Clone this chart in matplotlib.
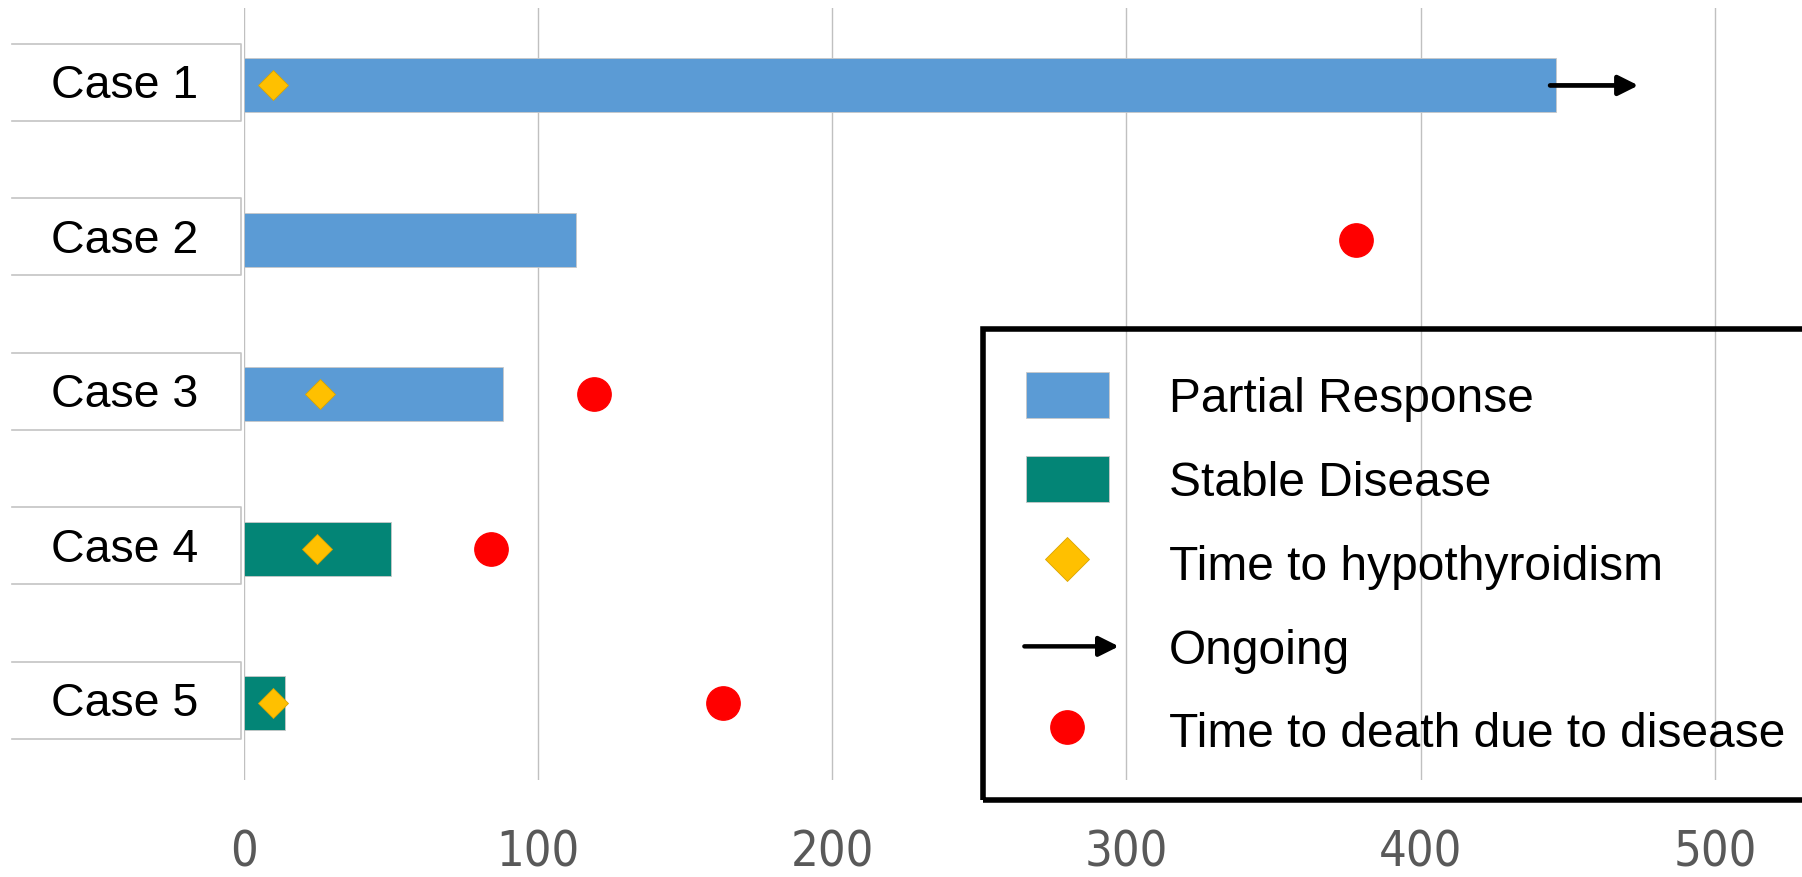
import numpy as np
import matplotlib
matplotlib.use("Agg")
import matplotlib.pyplot as plt
from matplotlib.patches import Patch, FancyArrowPatch
from matplotlib.lines import Line2D
from matplotlib.legend_handler import HandlerBase
from matplotlib.transforms import blended_transform_factory

plt.rcParams['font.family'] = ['Liberation Sans', 'DejaVu Sans']

cases = ['Case 1', 'Case 2', 'Case 3', 'Case 4', 'Case 5']
response = ['Partial Response', 'Partial Response', 'Partial Response',
            'Stable Disease', 'Stable Disease']
response_days = [446, 113, 88, 50, 14]
hypothyroid_days = [10, np.nan, 26, 25, 10]
death_days = [np.nan, 378, 119, 84, 163]
ongoing_until = [474, np.nan, np.nan, np.nan, np.nan]
xticks = [0, 100, 200, 300, 400, 500]

colors = {'Partial Response': '#5B9BD5', 'Stable Disease': '#038576'}
diamond_color = '#FFC000'
death_color = '#FF0000'


class ArrowHandler(HandlerBase):
    # draws the "Ongoing" legend key as a plain arrow
    def create_artists(self, legend, orig_handle, xdescent, ydescent,
                       width, height, fontsize, trans):
        y = height / 2 - ydescent
        arr = FancyArrowPatch((-xdescent - 1, y), (-xdescent + width + 7, y),
                              arrowstyle='-|>', mutation_scale=30, lw=3.2,
                              color='black', shrinkA=0, shrinkB=0,
                              transform=trans)
        return [arr]


fig = plt.figure(figsize=(18.02, 8.78), dpi=100)
ax = fig.add_axes([0.1352, 0.110, 0.8648, 0.8795])

y = np.arange(len(cases))
ax.barh(y, response_days, height=0.35,
        color=[colors[r] for r in response],
        edgecolor='#C8C8C8', linewidth=0.6, zorder=2)

ax.plot(hypothyroid_days, y, linestyle='none', marker='D', markersize=15,
        markerfacecolor=diamond_color, markeredgecolor='#D9A400',
        markeredgewidth=0.6, zorder=4)
ax.plot(death_days, y, linestyle='none', marker='o', markersize=24,
        markerfacecolor=death_color, markeredgecolor=death_color, zorder=4)

for yi, start, end in zip(y, response_days, ongoing_until):
    if not np.isnan(end):
        ax.annotate('', xy=(end, yi), xytext=(start - 2, yi),
                    arrowprops=dict(arrowstyle='-|>', lw=3.4, color='black',
                                    mutation_scale=30, shrinkA=0, shrinkB=0),
                    zorder=5)

ax.set_xlim(0, 529.6)
ax.set_ylim(4.5, -0.5)
ax.set_xticks(xticks)
ax.set_yticks([])
ax.grid(axis='x', color='#C0C0C0', linewidth=1.0)
ax.set_axisbelow(True)
for side in ax.spines:
    ax.spines[side].set_visible(False)
ax.tick_params(axis='x', length=0, pad=34, labelsize=35, labelcolor='#595959')
for lbl in ax.get_xticklabels():
    lbl.set_fontfamily('DejaVu Sans')
    lbl.set_fontstretch('condensed')

# case name boxes to the left of the axis
trans = blended_transform_factory(fig.transFigure, ax.transData)
box_l, box_r = 0.0064, 0.1338
for yi, name in zip(y, cases):
    top, bot = yi - 0.27, yi + 0.23
    ax.plot([box_l, box_r, box_r, box_l], [top, top, bot, bot],
            color='#C4C4C4', lw=1.2, transform=trans, clip_on=False)
    ax.text((box_l + box_r) / 2 - 0.001, yi, name, transform=trans,
            ha='center', va='center', fontsize=33.5, color='black')

handles = [
    Patch(facecolor=colors['Partial Response'], edgecolor='#C8C8C8', lw=0.6),
    Patch(facecolor=colors['Stable Disease'], edgecolor='#C8C8C8', lw=0.6),
    Line2D([], [], linestyle='none', marker='D', markersize=22,
           markerfacecolor=diamond_color, markeredgecolor='#D9A400',
           markeredgewidth=0.6),
    FancyArrowPatch((0, 0), (1, 0)),
    Line2D([], [], linestyle='none', marker='o', markersize=24,
           markerfacecolor=death_color, markeredgecolor=death_color),
]
labels = ['Partial Response', 'Stable Disease', 'Time to hypothyroidism',
          'Ongoing', 'Time to death due to disease']
leg = fig.legend(handles, labels, loc='upper left',
                 bbox_to_anchor=(0.5453, 0.6243), fontsize=34.5,
                 handlelength=1.74, handleheight=1.1, handletextpad=1.24,
                 borderpad=0.9, labelspacing=0.72, borderaxespad=0,
                 fancybox=False, framealpha=1, facecolor='none',
                 edgecolor='black',
                 handler_map={FancyArrowPatch: ArrowHandler()})
leg.get_frame().set_linewidth(4.0)

fig.savefig('out.png', dpi=100)
